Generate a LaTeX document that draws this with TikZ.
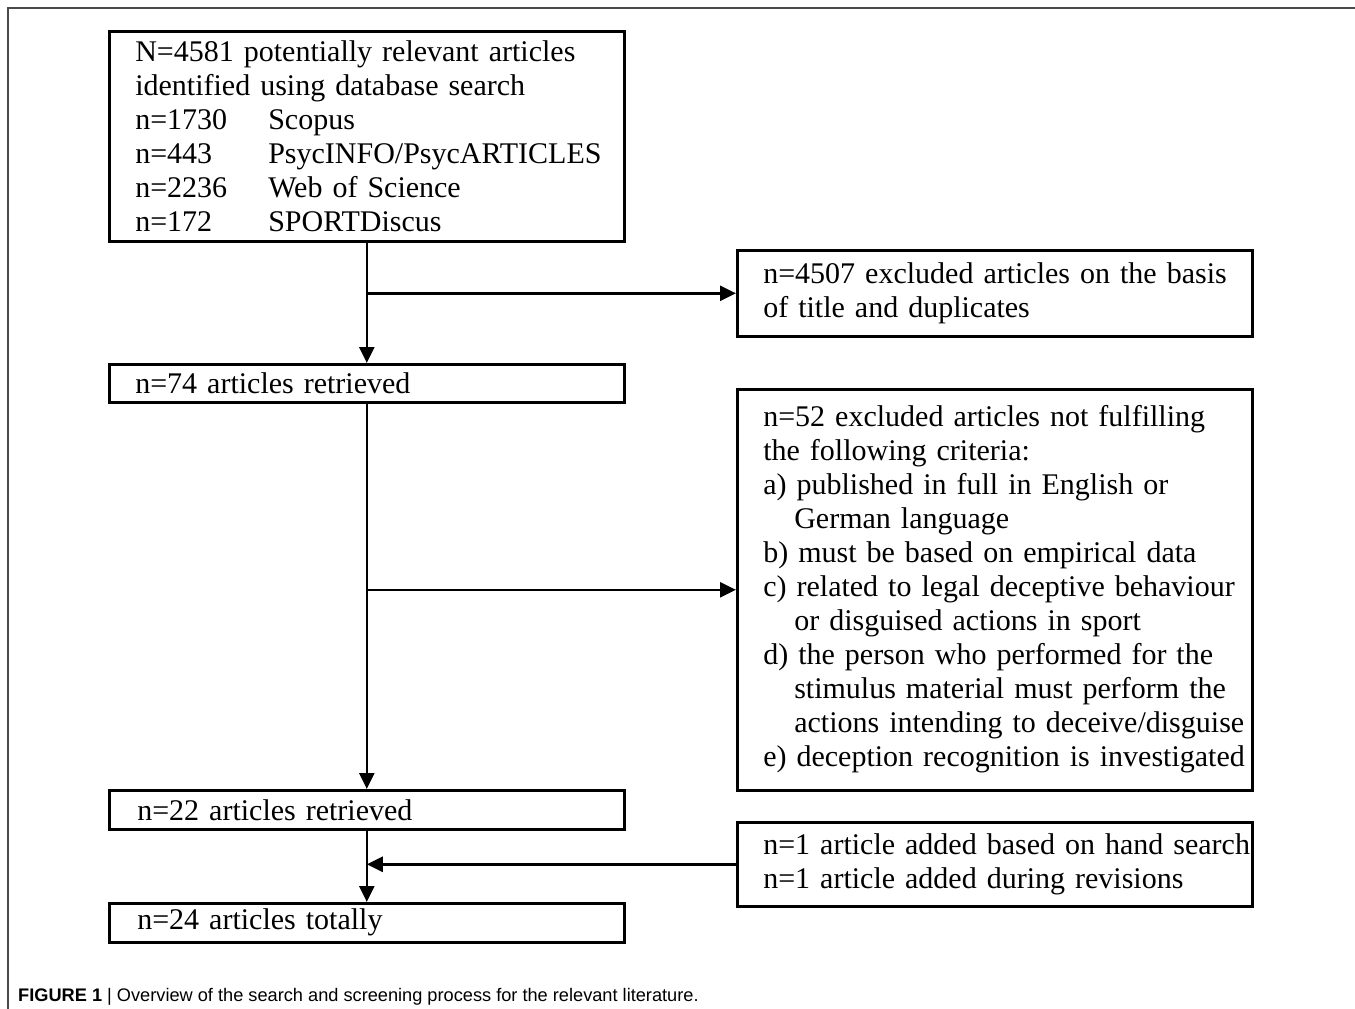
\documentclass[tikz,border=0pt]{standalone}
\usepackage{fontspec}
\setmainfont{Liberation Serif}
\newfontfamily\capfont{Liberation Sans}
\usetikzlibrary{positioning,arrows.meta}
\definecolor{framegray}{HTML}{4A4A4A}

\begin{document}
\begin{tikzpicture}[x=1pt, y=-1pt,
    box/.style={draw, line width=2.6pt, anchor=north west, align=left,
        text width=463pt, inner xsep=26pt, inner ysep=0pt, minimum width=515pt,
        font=\fontsize{30}{34}\selectfont},
    arr/.style={line width=2.6pt, -{Triangle[length=16pt,width=15pt]}}]
    \useasboundingbox (0,0) rectangle (1355,1009);

    % Frame
    \draw[line width=2pt, draw=framegray] (1355,8) -- (8,8) -- (8,1009);

    % Left column
    \node[box, minimum height=210pt] (search) at (108,30)
        {\raisebox{-3pt}[\height][\depth]{\begin{tabular}{@{}l@{}}
         N=4581 potentially relevant articles\\
         identified using database search\\
         \makebox[133pt][l]{n=1730}Scopus\\
         \makebox[133pt][l]{n=443}PsycINFO/PsycARTICLES\\
         \makebox[133pt][l]{n=2236}Web of Science\\
         \makebox[133pt][l]{n=172}SPORTDiscus
         \end{tabular}}};
    \node[box, minimum height=38pt] (ret74) at (108,363) {n=74 articles retrieved};
    \node[box, minimum height=39pt] (ret22) at (108,789) {\hspace*{2pt}n=22 articles retrieved};
    \node[box, minimum height=39pt] (total) at (108,902) {\hspace*{2pt}n=24 articles totally};

    % Right column
    \node[box, minimum height=86pt] (excl1) at (736,249)
        {\begin{tabular}{@{}l@{}}
         n=4507 excluded articles on the basis\\ of title and duplicates
         \end{tabular}};
    \node[box, minimum height=401pt] (excl2) at (736,388)
        {\begin{tabular}{@{}l@{}}
         n=52 excluded articles not fulfilling\\
         the following criteria:\\
         a) published in full in English or\\
         \hspace*{31pt}German language\\
         b) must be based on empirical data\\
         c) related to legal deceptive behaviour\\
         \hspace*{31pt}or disguised actions in sport\\
         d) the person who performed for the\\
         \hspace*{31pt}stimulus material must perform the\\
         \hspace*{31pt}actions intending to deceive/disguise\\
         e) deception recognition is investigated
         \end{tabular}};
    \node[box, minimum height=84pt] (added) at (736,821)
        {\begin{tabular}{@{}l@{}}
         n=1 article added based on hand search\\ n=1 article added during revisions
         \end{tabular}};

    % Connectors
    \draw[arr] (search.south) -- (ret74.north);
    \draw[arr] (search.south |- excl1.west) -- (excl1.west);
    \draw[arr] (ret74.south) -- (ret22.north);
    \draw[arr] (ret74.south |- excl2.west) -- (excl2.west);
    \draw[arr] (ret22.south) -- (total.north);
    \draw[arr] (added.west) -- (ret22.south |- added.west);

    % Caption
    \node[anchor=base west, inner sep=0pt, font=\capfont\fontsize{18.2}{20}\selectfont] (caption) at (18,1001)
        {{\bfseries FIGURE 1} | Overview of the search and screening process for the relevant literature.};
\end{tikzpicture}
\end{document}
